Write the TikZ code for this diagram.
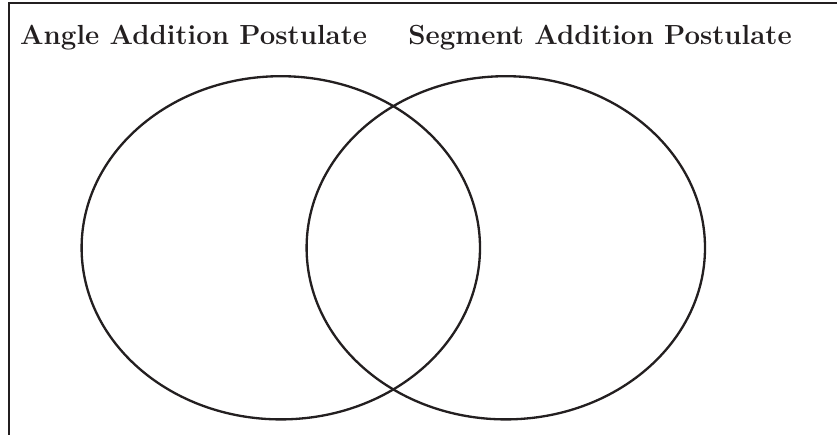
\documentclass[tikz,border=0pt]{standalone}
\usepackage{xcolor}
\usepackage{tikz}
\definecolor{VennInk}{HTML}{231F20}

\begin{document}
\begin{tikzpicture}[x=1cm,y=1cm]
\path[use as bounding box] (0,0) rectangle (13.95,7.25);
\draw[VennInk,line width=1.4pt] (0.15,0) -- (0.15,7.20) -- (13.95,7.20);
\draw[VennInk,line width=1.1pt] (4.68,3.12) ellipse (3.32cm and 2.86cm);
\draw[VennInk,line width=1.1pt] (8.43,3.12) ellipse (3.32cm and 2.86cm);
\node[anchor=base west,inner sep=0pt,text=VennInk] (angle) at (0.33,6.50) {\fontsize{13.1}{15}\selectfont\bfseries Angle Addition Postulate};
\node[anchor=base west,inner sep=0pt,text=VennInk] (segment) at (6.80,6.50) {\fontsize{13.1}{15}\selectfont\bfseries Segment Addition Postulate};
\end{tikzpicture}
\end{document}
